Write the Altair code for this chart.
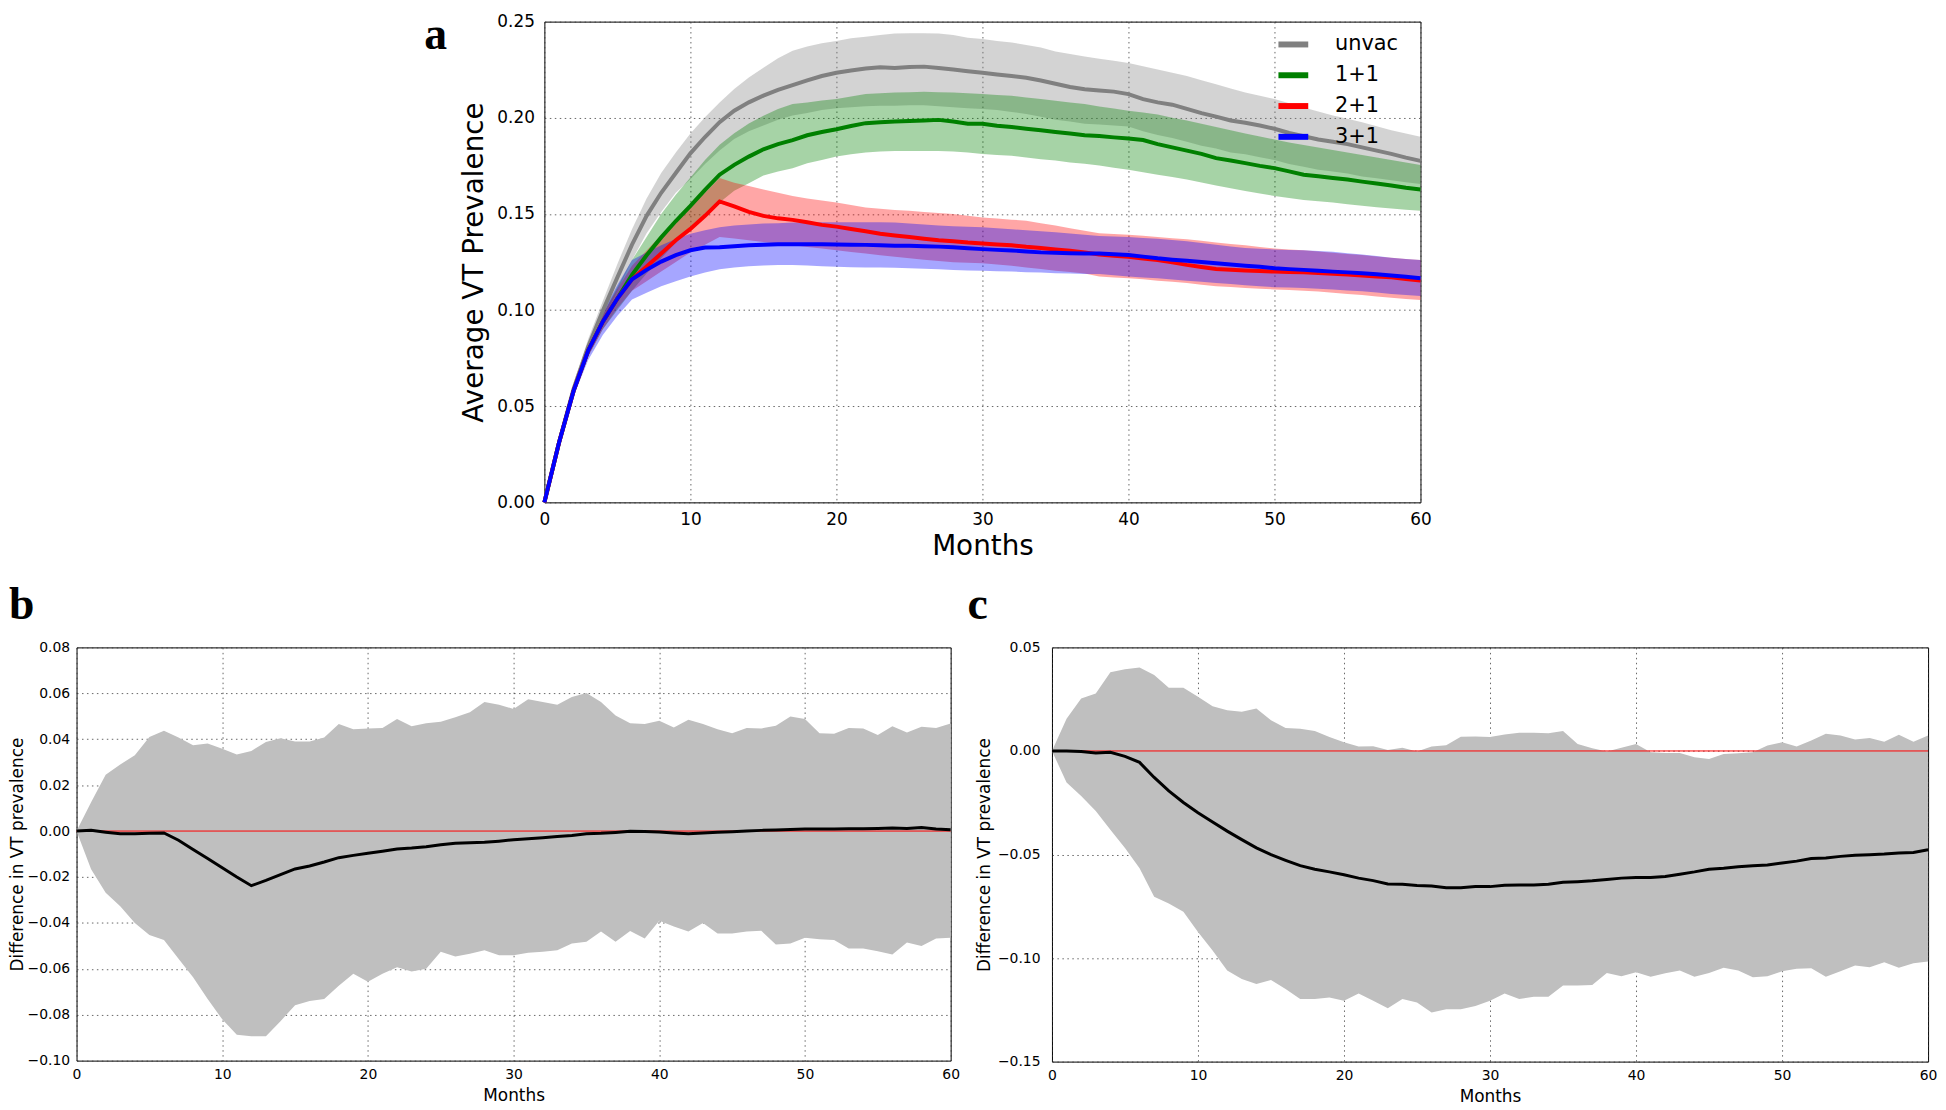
import altair as alt
import pandas as pd

months = list(range(61))

series_names = ["unvac", "1+1", "2+1", "3+1"]
series_colors = ["#808080", "#008000", "#ff0000", "#0000ff"]

unvac_mean = [0, 0.031, 0.059, 0.081, 0.0996, 0.117, 0.134, 0.149, 0.161, 0.1713,
              0.1815, 0.19, 0.1977, 0.2037, 0.208, 0.2115, 0.2145, 0.217, 0.2194, 0.2217,
              0.2234, 0.2246, 0.2256, 0.2263, 0.2259, 0.2264, 0.2266, 0.2259, 0.2251, 0.2242,
              0.2234, 0.2225, 0.2217, 0.2208, 0.2194, 0.2177, 0.216, 0.2148, 0.2142, 0.2136,
              0.2123, 0.2097, 0.208, 0.2068, 0.2046, 0.2024, 0.2006, 0.1986, 0.1974, 0.196,
              0.1943, 0.1921, 0.1904, 0.1887, 0.1875, 0.1863, 0.1846, 0.1829, 0.1812, 0.1793, 0.1776]
unvac_hi = [0, 0.033, 0.062, 0.085, 0.1047, 0.124, 0.142, 0.158, 0.1713, 0.182,
            0.1918, 0.2003, 0.208, 0.215, 0.221, 0.226, 0.231, 0.2348, 0.237, 0.2387,
            0.2399, 0.2413, 0.2421, 0.243, 0.2438, 0.244, 0.244, 0.2438, 0.243, 0.2416,
            0.2409, 0.2399, 0.2392, 0.2379, 0.2365, 0.2345, 0.2331, 0.2319, 0.2307, 0.2296,
            0.2285, 0.2268, 0.2251, 0.2234, 0.2217, 0.2195, 0.2174, 0.2152, 0.2131, 0.2114,
            0.2097, 0.2075, 0.2054, 0.2033, 0.2012, 0.1995, 0.1977, 0.1956, 0.1935, 0.1918, 0.1901]
unvac_lo = [0, 0.029, 0.056, 0.077, 0.094, 0.110, 0.126, 0.140, 0.151, 0.161,
            0.168, 0.176, 0.183, 0.189, 0.193, 0.196, 0.199, 0.2012, 0.2025, 0.204,
            0.205, 0.2055, 0.206, 0.2063, 0.2063, 0.2065, 0.2065, 0.206, 0.2055, 0.205,
            0.2046, 0.204, 0.203, 0.202, 0.2005, 0.199, 0.198, 0.1969, 0.1965, 0.196,
            0.1955, 0.193, 0.191, 0.1895, 0.1875, 0.1855, 0.184, 0.182, 0.181, 0.1795,
            0.178, 0.176, 0.1745, 0.173, 0.172, 0.171, 0.1695, 0.1685, 0.1675, 0.1665, 0.1655]

v11_mean = [0, 0.031, 0.058, 0.079, 0.094, 0.106, 0.1183, 0.1285, 0.1378, 0.1463,
            0.1542, 0.1625, 0.1704, 0.1755, 0.1798, 0.1836, 0.1863, 0.1884, 0.1909, 0.1926,
            0.194, 0.1957, 0.1972, 0.1977, 0.1981, 0.1983, 0.1986, 0.1989, 0.1981, 0.1969,
            0.1969, 0.1959, 0.1952, 0.1943, 0.1935, 0.1926, 0.1918, 0.1909, 0.1905, 0.1898,
            0.1892, 0.1884, 0.1863, 0.1846, 0.1829, 0.1812, 0.179, 0.1778, 0.1764, 0.175,
            0.1738, 0.1721, 0.1704, 0.1696, 0.1687, 0.1679, 0.1668, 0.1658, 0.1648, 0.1636, 0.1627]
v11_hi = [0, 0.032, 0.060, 0.082, 0.098, 0.112, 0.126, 0.138, 0.150, 0.160,
          0.169, 0.178, 0.186, 0.192, 0.197, 0.201, 0.2045, 0.2071, 0.208, 0.209,
          0.2097, 0.211, 0.2123, 0.2127, 0.2131, 0.2133, 0.2135, 0.2133, 0.2131, 0.2127,
          0.2123, 0.2118, 0.2114, 0.2105, 0.2097, 0.2088, 0.208, 0.2071, 0.2058, 0.2048,
          0.2037, 0.2027, 0.2017, 0.2, 0.1986, 0.1969, 0.1952, 0.1935, 0.1918, 0.1902,
          0.1887, 0.1872, 0.1858, 0.1845, 0.1832, 0.182, 0.1807, 0.1794, 0.1781, 0.1768, 0.1755]
v11_lo = [0, 0.030, 0.056, 0.076, 0.090, 0.100, 0.110, 0.119, 0.127, 0.135,
          0.142, 0.149, 0.156, 0.162, 0.166, 0.170, 0.172, 0.1738, 0.1764, 0.1781,
          0.1798, 0.181, 0.1819, 0.1824, 0.1827, 0.1827, 0.1827, 0.1827, 0.1824, 0.1819,
          0.1812, 0.1807, 0.1802, 0.1793, 0.1784, 0.1778, 0.1767, 0.1761, 0.1752, 0.174,
          0.173, 0.1717, 0.1704, 0.1692, 0.1679, 0.1664, 0.1648, 0.1634, 0.1619, 0.1606,
          0.1593, 0.1583, 0.1573, 0.1566, 0.1559, 0.155, 0.1542, 0.1535, 0.1528, 0.1522, 0.1516]

v21_mean = [0, 0.031, 0.058, 0.079, 0.094, 0.106, 0.116, 0.1226, 0.1294, 0.1363,
            0.1422, 0.149, 0.1565, 0.1539, 0.1511, 0.149, 0.1477, 0.1469, 0.1457, 0.1443,
            0.1434, 0.1422, 0.141, 0.1397, 0.1388, 0.138, 0.1371, 0.1363, 0.1358, 0.1351,
            0.1346, 0.1341, 0.1337, 0.1329, 0.1323, 0.1315, 0.1308, 0.13, 0.1289, 0.1282,
            0.1277, 0.1268, 0.126, 0.1248, 0.1235, 0.1224, 0.1214, 0.121, 0.1206, 0.1203,
            0.12, 0.1198, 0.1197, 0.1193, 0.1189, 0.1185, 0.118, 0.1175, 0.117, 0.1162, 0.1153]
v21_hi = [0, 0.032, 0.060, 0.082, 0.098, 0.111, 0.123, 0.131, 0.139, 0.147,
          0.154, 0.161, 0.1687, 0.1662, 0.1645, 0.1627, 0.161, 0.1593, 0.158, 0.157,
          0.1559, 0.1546, 0.1533, 0.1527, 0.1521, 0.1516, 0.151, 0.1505, 0.1499, 0.149,
          0.1482, 0.1476, 0.147, 0.1465, 0.1452, 0.144, 0.1425, 0.1412, 0.14, 0.1396,
          0.1392, 0.1386, 0.138, 0.1374, 0.1368, 0.136, 0.1351, 0.1344, 0.1337, 0.1328,
          0.132, 0.1315, 0.1311, 0.1305, 0.1298, 0.1292, 0.1286, 0.1279, 0.1272, 0.1266, 0.126]
v21_lo = [0, 0.030, 0.056, 0.076, 0.090, 0.101, 0.110, 0.115, 0.120, 0.125,
          0.130, 0.134, 0.138, 0.1372, 0.1363, 0.1354, 0.1346, 0.1337, 0.1328, 0.132,
          0.1311, 0.1302, 0.1294, 0.1285, 0.1277, 0.1269, 0.1262, 0.1255, 0.1249, 0.1246,
          0.1243, 0.1237, 0.123, 0.1222, 0.1214, 0.1205, 0.1198, 0.119, 0.1175, 0.117,
          0.1166, 0.116, 0.1153, 0.1147, 0.1141, 0.1132, 0.1124, 0.112, 0.1115, 0.1111,
          0.1107, 0.1104, 0.1101, 0.1096, 0.109, 0.1084, 0.1078, 0.1071, 0.1064, 0.1058, 0.1052]

v31_mean = [0, 0.031, 0.058, 0.079, 0.094, 0.106, 0.116, 0.1209, 0.1252, 0.1286,
            0.1311, 0.1325, 0.1327, 0.1332, 0.1337, 0.134, 0.1342, 0.1342, 0.1342, 0.1342,
            0.1341, 0.134, 0.1339, 0.1337, 0.1335, 0.1334, 0.1332, 0.133, 0.1327, 0.1322,
            0.1317, 0.1313, 0.131, 0.1305, 0.13, 0.1298, 0.1296, 0.1294, 0.1294, 0.129,
            0.1286, 0.1278, 0.1269, 0.1262, 0.1256, 0.125, 0.1243, 0.1237, 0.1231, 0.1225,
            0.1218, 0.1213, 0.1209, 0.1205, 0.12, 0.1196, 0.1192, 0.1186, 0.118, 0.1173, 0.1166]
v31_hi = [0, 0.032, 0.060, 0.082, 0.099, 0.113, 0.126, 0.130, 0.1337, 0.137,
          0.1397, 0.1415, 0.1431, 0.144, 0.1445, 0.145, 0.1452, 0.1455, 0.1457, 0.1457,
          0.1457, 0.1457, 0.1457, 0.1457, 0.1455, 0.145, 0.1445, 0.144, 0.1436, 0.1433,
          0.1431, 0.1425, 0.142, 0.1415, 0.141, 0.1405, 0.1398, 0.1392, 0.1385, 0.1382,
          0.138, 0.1375, 0.1371, 0.1365, 0.1358, 0.1349, 0.134, 0.1331, 0.1323, 0.1319,
          0.1315, 0.1313, 0.1311, 0.1307, 0.1303, 0.1296, 0.1289, 0.1281, 0.1272, 0.1266, 0.126]
v31_lo = [0, 0.030, 0.055, 0.074, 0.087, 0.097, 0.1055, 0.109, 0.1124, 0.115,
          0.1175, 0.1195, 0.1212, 0.1222, 0.1228, 0.1232, 0.1234, 0.1235, 0.1232, 0.1228,
          0.1225, 0.1223, 0.1222, 0.1221, 0.122, 0.1218, 0.1215, 0.1212, 0.1209, 0.1206,
          0.1204, 0.1202, 0.12, 0.1197, 0.1195, 0.1192, 0.119, 0.1188, 0.1187, 0.1181,
          0.1175, 0.117, 0.1166, 0.1159, 0.1153, 0.1147, 0.1141, 0.1135, 0.1129, 0.1124,
          0.1119, 0.1117, 0.1115, 0.1111, 0.1107, 0.1102, 0.1098, 0.1091, 0.1084, 0.1078, 0.1073]

diff_b_mean = [0, 0.0003, -0.0005, -0.0012, -0.0012, -0.001, -0.0008, -0.004, -0.008, -0.012,
               -0.016, -0.020, -0.0238, -0.0215, -0.019, -0.0165, -0.0152, -0.0135, -0.0116, -0.0106,
               -0.0097, -0.0088, -0.0078, -0.0074, -0.0068, -0.006, -0.0053, -0.0051, -0.0049, -0.0044,
               -0.0038, -0.0034, -0.0029, -0.0024, -0.0019, -0.0012, -0.001, -0.0006, -0.0001, -0.0002,
               -0.0004, -0.0008, -0.0012, -0.0008, -0.0005, -0.0003, 0.0, 0.0003, 0.0005, 0.0007,
               0.0009, 0.0009, 0.0009, 0.001, 0.001, 0.0011, 0.0013, 0.0011, 0.0015, 0.0009, 0.0006]
diff_b_hi = [0, 0.0125, 0.0245, 0.029, 0.033, 0.041, 0.0437, 0.0407, 0.0374, 0.0381,
             0.0359, 0.0334, 0.0349, 0.0388, 0.0404, 0.039, 0.039, 0.0407, 0.0466, 0.0444,
             0.0447, 0.0449, 0.0488, 0.0456, 0.047, 0.0476, 0.0496, 0.0518, 0.0562, 0.055,
             0.0532, 0.0574, 0.0562, 0.055, 0.0584, 0.0601, 0.0562, 0.0503, 0.047, 0.0466,
             0.048, 0.0451, 0.0485, 0.0466, 0.0444, 0.0426, 0.0449, 0.0447, 0.0459, 0.0499,
             0.0488, 0.0426, 0.0424, 0.0449, 0.0447, 0.0418, 0.0456, 0.0429, 0.0454, 0.0449, 0.0468]
diff_b_lo = [0, -0.0166, -0.0269, -0.0328, -0.0401, -0.0453, -0.0475, -0.0556, -0.0637, -0.0732,
             -0.082, -0.0887, -0.0894, -0.0894, -0.0828, -0.0759, -0.074, -0.0732, -0.0674, -0.0622,
             -0.0656, -0.0622, -0.0593, -0.0612, -0.06, -0.0526, -0.0546, -0.0534, -0.0519, -0.0541,
             -0.0541, -0.053, -0.0526, -0.0519, -0.049, -0.0482, -0.0438, -0.0482, -0.0435, -0.0468,
             -0.0391, -0.0416, -0.0438, -0.0401, -0.0446, -0.0446, -0.0438, -0.0434, -0.0494, -0.049,
             -0.0465, -0.0471, -0.0475, -0.0512, -0.0512, -0.0524, -0.0538, -0.0485, -0.0501, -0.0468, -0.0465]

diff_c_mean = [0, 0.0, -0.0003, -0.001, -0.0006, -0.0026, -0.0055, -0.0128, -0.0193, -0.0249,
               -0.0298, -0.0343, -0.0387, -0.0428, -0.0468, -0.0501, -0.0528, -0.0554, -0.0571, -0.0584,
               -0.0598, -0.0614, -0.0626, -0.0642, -0.0644, -0.065, -0.0652, -0.0661, -0.066, -0.0655,
               -0.0655, -0.0648, -0.0647, -0.0647, -0.0644, -0.0634, -0.0631, -0.0627, -0.0621, -0.0614,
               -0.0611, -0.0611, -0.0606, -0.0595, -0.0584, -0.0571, -0.0566, -0.0559, -0.0554, -0.0551,
               -0.0541, -0.0532, -0.0519, -0.0517, -0.0509, -0.0504, -0.0501, -0.0498, -0.0493, -0.049, -0.0477]
diff_c_hi = [0, 0.0156, 0.0253, 0.0278, 0.038, 0.0395, 0.0403, 0.0367, 0.0305, 0.0305,
             0.0262, 0.0216, 0.0197, 0.0189, 0.0205, 0.0148, 0.0111, 0.0107, 0.0096, 0.0067,
             0.0042, 0.0021, 0.0023, 0.0005, 0.0015, -0.0003, 0.0021, 0.0028, 0.0068, 0.007,
             0.0067, 0.008, 0.0088, 0.0088, 0.0086, 0.0096, 0.0034, 0.0013, -0.0003, 0.0015,
             0.0034, -0.0006, -0.001, -0.001, -0.0031, -0.0039, -0.0015, -0.0011, -0.0006, 0.0026,
             0.0042, 0.0021, 0.005, 0.0083, 0.0075, 0.0055, 0.0063, 0.0045, 0.0078, 0.0045, 0.0075]
diff_c_lo = [0, -0.0152, -0.0217, -0.029, -0.038, -0.0468, -0.0566, -0.0704, -0.0736, -0.0777,
             -0.0874, -0.0963, -0.106, -0.1101, -0.1125, -0.1106, -0.115, -0.1198, -0.1198, -0.119,
             -0.1206, -0.1171, -0.1206, -0.1242, -0.1198, -0.1215, -0.1263, -0.1247, -0.1247, -0.1231,
             -0.1206, -0.1171, -0.1198, -0.1187, -0.1187, -0.1133, -0.1133, -0.113, -0.1072, -0.1088,
             -0.1069, -0.109, -0.1073, -0.106, -0.109, -0.1072, -0.1047, -0.106, -0.1093, -0.1088,
             -0.1064, -0.1052, -0.1049, -0.109, -0.1064, -0.1036, -0.1044, -0.102, -0.1047, -0.1025, -0.1017]

zero_ref = [0.0]

x_ticks = [0, 10, 20, 30, 40, 50, 60]
a_y_ticks = [0.0, 0.05, 0.10, 0.15, 0.20, 0.25]
b_y_ticks = [-0.10, -0.08, -0.06, -0.04, -0.02, 0.0, 0.02, 0.04, 0.06, 0.08]
c_y_ticks = [-0.15, -0.10, -0.05, 0.0, 0.05]

FONT = "DejaVu Sans"
SERIF = "Liberation Serif"


def axis(title, values, fmt, lfs, tfs, lpad, tpad):
    return alt.Axis(title=title, values=values, format=fmt, labelFontSize=lfs, titleFontSize=tfs,
                    labelPadding=lpad, titlePadding=tpad, labelFont=FONT, titleFont=FONT,
                    labelColor="black", titleColor="black", titleFontWeight="normal",
                    ticks=False, domain=False, labelFlush=False, labelOverlap=False,
                    grid=True, gridColor="#333333", gridOpacity=0.75, gridWidth=1,
                    gridDash=[1.5, 3.5])


# ---------------- panel a ----------------
series_data = [
    ("unvac", unvac_mean, unvac_lo, unvac_hi),
    ("1+1", v11_mean, v11_lo, v11_hi),
    ("2+1", v21_mean, v21_lo, v21_hi),
    ("3+1", v31_mean, v31_lo, v31_hi),
]
frames = {name: pd.DataFrame({"month": months, "series": name, "mean": m, "lo": lo, "hi": hi})
          for name, m, lo, hi in series_data}

xa = alt.X("month:Q", scale=alt.Scale(domain=[0, 60], nice=False, zero=False),
           axis=axis("Months", x_ticks, "d", 17, 28, 9, 5))
ya_scale = alt.Scale(domain=[0, 0.25], nice=False)
ya_axis = axis("Average VT Prevalence", a_y_ticks, ".2f", 17, 28, 10, 8)

color_scale = alt.Scale(domain=series_names, range=series_colors)
legend_a = alt.Legend(title=None, orient="none", legendX=1207, legendY=5, direction="vertical",
                      symbolType="stroke", symbolStrokeWidth=6, symbolSize=900, symbolOpacity=1,
                      labelFont=FONT, labelFontSize=21, labelColor="black", labelOffset=24,
                      rowPadding=1, padding=0)

bands = []
for name, col in zip(series_names, series_colors):
    bands.append(
        alt.Chart(frames[name]).mark_area(color=col, opacity=0.35).encode(
            x=xa, y=alt.Y("lo:Q", scale=ya_scale, axis=ya_axis), y2="hi:Q"))
lines = []
for name in series_names:
    lines.append(
        alt.Chart(frames[name]).mark_line(strokeWidth=4).encode(
            x=xa, y=alt.Y("mean:Q", scale=ya_scale, axis=ya_axis),
            color=alt.Color("series:N", scale=color_scale, legend=legend_a)))

panel_a = alt.layer(*bands, *lines).properties(width=882, height=484)

spacer = alt.Chart(pd.DataFrame({"label": ["a"]})).mark_text(
    font=SERIF, fontSize=46, fontWeight="bold", align="left", baseline="alphabetic",
    color="black"
).encode(text="label:N", x=alt.value(350), y=alt.value(28)).properties(
    width=385, height=484, view=alt.ViewBackground(stroke="transparent"))

row1 = alt.hconcat(spacer, panel_a, spacing=0)


# ---------------- panels b and c ----------------
def diff_panel(mean, lo, hi, ydom, yticks, w, h, label, dx, lpad, tpad):
    df = pd.DataFrame({"month": months, "mean": mean, "lo": lo, "hi": hi})
    x = alt.X("month:Q", scale=alt.Scale(domain=[0, 60], nice=False, zero=False),
              axis=axis("Months", x_ticks, "d", 14, 17, 7, 6))
    ys = alt.Scale(domain=ydom, nice=False, zero=False)
    yax = axis("Difference in VT prevalence", yticks, ".2f", 14, 17, lpad, tpad)
    band = alt.Chart(df).mark_area(color="#bfbfbf").encode(
        x=x, y=alt.Y("lo:Q", scale=ys, axis=yax), y2="hi:Q")
    zero = alt.Chart(pd.DataFrame({"ref": zero_ref})).mark_rule(color="red", strokeWidth=1).encode(
        y=alt.Y("ref:Q", scale=ys, axis=yax))
    line = alt.Chart(df).mark_line(color="black", strokeWidth=3).encode(
        x=x, y=alt.Y("mean:Q", scale=ys, axis=yax))
    return alt.layer(band, zero, line).properties(
        width=w, height=h,
        title=alt.TitleParams(label, anchor="start", frame="group", font=SERIF, fontSize=46,
                              fontWeight="bold", color="black", dx=dx, offset=12))


panel_b = diff_panel(diff_b_mean, diff_b_lo, diff_b_hi, [-0.10, 0.08], b_y_ticks, 880, 416, "b", -68, 7, 0)
panel_c = diff_panel(diff_c_mean, diff_c_lo, diff_c_hi, [-0.15, 0.05], c_y_ticks, 882, 417, "c", -85, 12, 4)

row2 = alt.hconcat(panel_b, panel_c, spacing=6)

chart = alt.vconcat(row1, row2, spacing=20).properties(
    padding=0, background="white"
).configure_view(stroke="black", strokeWidth=1)

chart.save("out.html", embed_options={"renderer": "svg", "actions": False})
